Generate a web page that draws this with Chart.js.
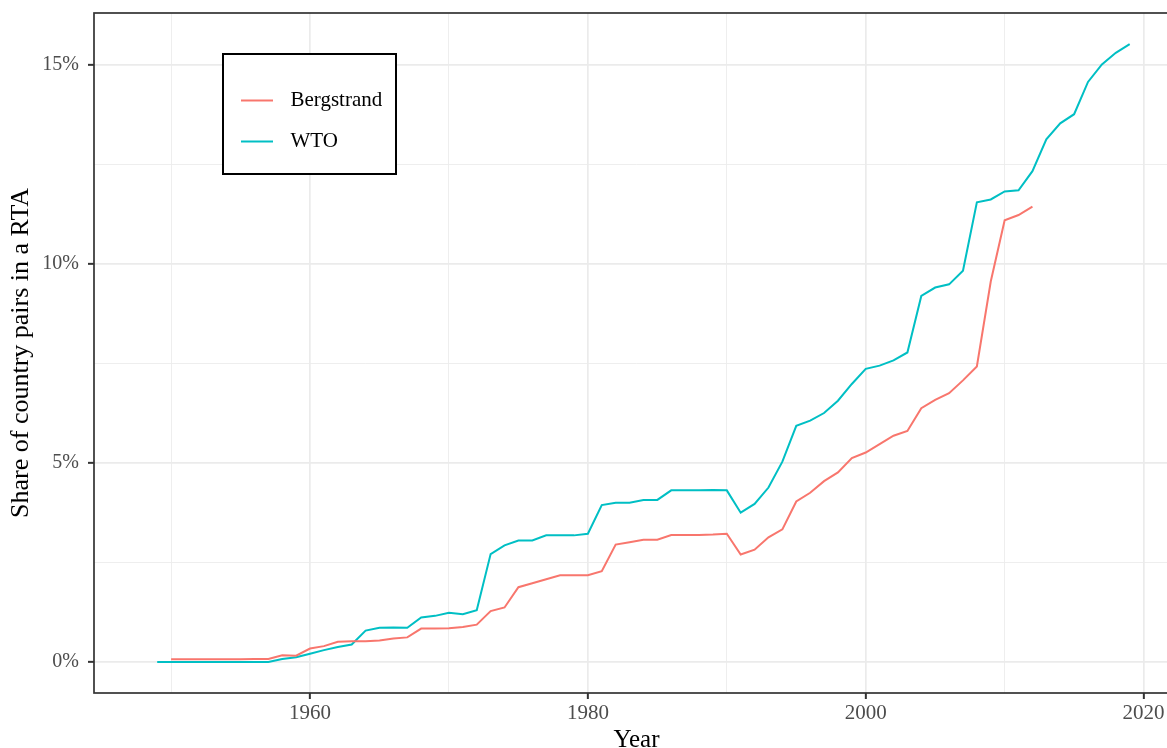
<!DOCTYPE html>
<html>
<head>
<meta charset="utf-8">
<script src="https://cdn.jsdelivr.net/npm/chart.js@4/dist/chart.umd.min.js"></script>
<style>
  html, body { margin: 0; padding: 0; background: #fff; overflow: hidden; }
  /* the panel runs a little past the right and bottom edges of the window, as in the original */
  #wrap { width: 1180px; height: 756px; }
</style>
</head>
<body>
<div id="wrap"><canvas id="chart_rta" width="1180" height="756"></canvas></div>
<script>
// years 1949..2019
const years = [
  1949, 1950, 1951, 1952, 1953, 1954, 1955, 1956, 1957, 1958, 1959,
  1960, 1961, 1962, 1963, 1964, 1965, 1966, 1967, 1968, 1969,
  1970, 1971, 1972, 1973, 1974, 1975, 1976, 1977, 1978, 1979,
  1980, 1981, 1982, 1983, 1984, 1985, 1986, 1987, 1988, 1989,
  1990, 1991, 1992, 1993, 1994, 1995, 1996, 1997, 1998, 1999,
  2000, 2001, 2002, 2003, 2004, 2005, 2006, 2007, 2008, 2009,
  2010, 2011, 2012, 2013, 2014, 2015, 2016, 2017, 2018, 2019
];

// share of country pairs in a RTA, in percent
const bergstrand = [
  null, 0.07, 0.07, 0.07, 0.07, 0.07, 0.07, 0.08, 0.08, 0.17, 0.16,
  0.34, 0.40, 0.51, 0.52, 0.52, 0.54, 0.59, 0.62, 0.84, 0.84,
  0.85, 0.88, 0.94, 1.28, 1.37, 1.88, 1.98, 2.08, 2.18, 2.18,
  2.18, 2.28, 2.95, 3.01, 3.07, 3.07, 3.19, 3.19, 3.19, 3.20,
  3.22, 2.70, 2.82, 3.13, 3.33, 4.03, 4.25, 4.54, 4.76, 5.12,
  5.26, 5.47, 5.68, 5.80, 6.37, 6.58, 6.75, 7.07, 7.42, 9.55,
  11.09, 11.22, 11.43, null, null, null, null, null, null, null
];

const wto = [
  0, 0, 0, 0, 0, 0, 0, 0, 0, 0.075, 0.12,
  0.21, 0.30, 0.38, 0.44, 0.79, 0.86, 0.87, 0.86, 1.12, 1.16,
  1.24, 1.20, 1.30, 2.71, 2.93, 3.05, 3.05, 3.18, 3.18, 3.18,
  3.22, 3.94, 4.00, 4.00, 4.07, 4.07, 4.31, 4.31, 4.31, 4.32,
  4.31, 3.75, 3.97, 4.38, 5.03, 5.93, 6.06, 6.25, 6.56, 6.98,
  7.36, 7.44, 7.57, 7.77, 9.19, 9.40, 9.48, 9.82, 11.54, 11.61,
  11.81, 11.84, 12.32, 13.12, 13.52, 13.75, 14.56, 15.00, 15.29, 15.51
];

const xTicks = [1950, 1960, 1970, 1980, 1990, 2000, 2010, 2020];
const yTicks = [0, 2.5, 5, 7.5, 10, 12.5, 15];

const toPoints = (vals) => years.map((yr, i) => ({ x: yr, y: vals[i] }));

Chart.defaults.font.family = '"Liberation Serif", "Times New Roman", serif';

const GRID = '#EBEBEB';
const DARK = '#333333';

// panel border on top of everything (theme_bw style)
const panelBorder = {
  id: 'panelBorder',
  afterDraw(chart) {
    const { ctx, chartArea: a } = chart;
    ctx.save();
    ctx.strokeStyle = DARK;
    ctx.lineWidth = 1.7;
    ctx.strokeRect(a.left, a.top, a.right - a.left, a.bottom - a.top);
    ctx.restore();
  }
};

// boxed legend inside the panel
const boxLegend = {
  id: 'boxLegend',
  afterDraw(chart) {
    const { ctx, chartArea: a } = chart;
    const x0 = a.left + 129, y0 = a.top + 41, w = 173, h = 120;
    ctx.save();
    ctx.fillStyle = '#fff';
    ctx.fillRect(x0, y0, w, h);
    ctx.strokeStyle = '#000';
    ctx.lineWidth = 2;
    ctx.strokeRect(x0, y0, w, h);
    ctx.font = '21px "Liberation Serif", serif';
    ctx.textBaseline = 'middle';
    ctx.textAlign = 'left';
    chart.data.datasets.forEach((ds, i) => {
      const cy = y0 + 46.5 + i * 41;
      ctx.strokeStyle = ds.borderColor;
      ctx.lineWidth = 2;
      ctx.beginPath();
      ctx.moveTo(x0 + 18, cy);
      ctx.lineTo(x0 + 50, cy);
      ctx.stroke();
      ctx.fillStyle = '#000';
      ctx.fillText(ds.label, x0 + 67.5, cy);
    });
    ctx.restore();
  }
};

const data = {
  datasets: [
    {
      label: 'Bergstrand',
      data: toPoints(bergstrand),
      borderColor: '#F8766D',
      backgroundColor: '#F8766D',
    },
    {
      label: 'WTO',
      data: toPoints(wto),
      borderColor: '#00BFC4',
      backgroundColor: '#00BFC4',
    }
  ]
};

const options = {
  responsive: false,
  animation: false,
  layout: { padding: { top: 13, right: 1, left: 0, bottom: 0 } },
  elements: {
    point: { radius: 0, hoverRadius: 0 },
    line: { borderWidth: 2, tension: 0 }
  },
  plugins: {
    legend: { display: false },
    tooltip: { enabled: false },
  },
  scales: {
    x: {
      type: 'linear',
      min: 1944.45,
      max: 2022.55,
      afterBuildTicks: (scale) => { scale.ticks = xTicks.map((v) => ({ value: v })); },
      afterFit: (scale) => {
        scale.height = 63;
        scale.paddingLeft = 0;
        scale.paddingRight = 0;
      },
      border: { display: false },
      grid: {
        color: GRID,
        lineWidth: (ctx) => (ctx.tick && ctx.tick.value % 20 === 0 ? 1.7 : 0.85),
        tickLength: 6,
        tickWidth: 2,
        tickColor: (ctx) => (ctx.tick && ctx.tick.value % 20 === 0 ? DARK : 'rgba(0,0,0,0)'),
      },
      ticks: {
        autoSkip: false,
        maxRotation: 0,
        padding: 2,
        color: '#4D4D4D',
        font: { size: 21 },
        callback: (v) => (v % 20 === 0 ? String(v) : ''),
      },
      title: {
        display: true,
        text: 'Year',
        color: '#000',
        font: { size: 25 },
        padding: { top: 0, bottom: 1 },
      }
    },
    y: {
      min: -0.776,
      max: 16.29,
      afterBuildTicks: (scale) => { scale.ticks = yTicks.map((v) => ({ value: v })); },
      afterFit: (scale) => {
        scale.width = 94;
        scale.paddingTop = 0;
        scale.paddingBottom = 0;
      },
      border: { display: false },
      grid: {
        color: GRID,
        lineWidth: (ctx) => (ctx.tick && ctx.tick.value % 5 === 0 ? 1.7 : 0.85),
        tickLength: 6,
        tickWidth: 2,
        tickColor: (ctx) => (ctx.tick && ctx.tick.value % 5 === 0 ? DARK : 'rgba(0,0,0,0)'),
      },
      ticks: {
        autoSkip: false,
        padding: 9,
        color: '#4D4D4D',
        font: { size: 20 },
        callback: (v) => (v % 5 === 0 ? v + '%' : ''),
      },
      title: {
        display: true,
        text: 'Share of country pairs in a RTA',
        color: '#000',
        font: { size: 26 },
        padding: { top: 6, bottom: 0 },
      }
    }
  }
};

const canvas = document.getElementById('chart_rta');
const chart = new Chart(canvas, {
  type: 'line',
  data: data,
  options: options,
  plugins: [panelBorder, boxLegend],
});
</script>
</body>
</html>
